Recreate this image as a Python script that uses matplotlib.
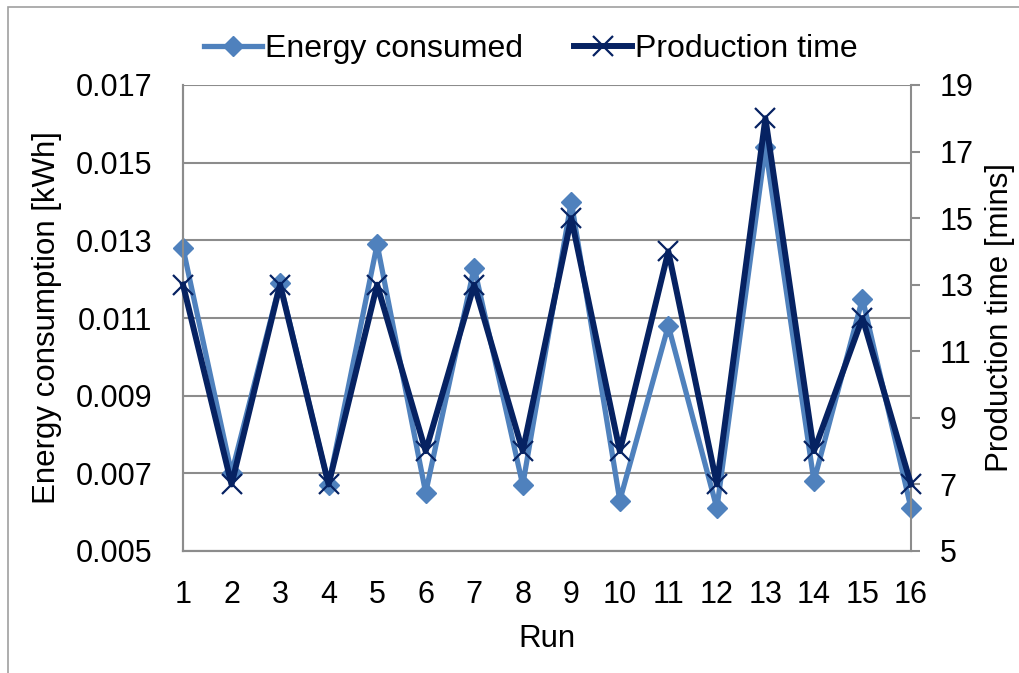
import numpy as np
import matplotlib.pyplot as plt
from matplotlib.patches import Rectangle

plt.rcParams['font.family'] = ['Liberation Sans', 'DejaVu Sans']

# Данные по прогонам
runs = list(range(1, 17))
energy = [0.0128, 0.0070, 0.0119, 0.0067, 0.0129, 0.0065, 0.0123, 0.0067,
          0.0140, 0.0063, 0.0108, 0.0061, 0.0154, 0.0068, 0.0115, 0.0061]
prod_time = [13, 7, 13, 7, 13, 8, 13, 8, 15, 8, 14, 7, 18, 8, 12, 7]

light = '#4F81BD'
dark = '#062262'
grey = '#8C8C8C'
fs = 22

fig = plt.figure(figsize=(10.19, 6.73), dpi=100)
ax = fig.add_axes([183 / 1019, 1 - 551 / 673, (911 - 183) / 1019, (551 - 85) / 673])
ax2 = ax.twinx()

# рамка вокруг области диаграммы
fig.patches.append(Rectangle((8 / 1019, -0.1), 1.2, 1 - 7 / 673 + 0.1,
                             transform=fig.transFigure, fill=False,
                             edgecolor='#A0A0A0', linewidth=1.2))

l1, = ax.plot(runs, energy, color=light, linewidth=3.8, marker='D',
              markersize=10, label='Energy consumed', zorder=3, clip_on=False)
l2, = ax2.plot(runs, prod_time, color=dark, linewidth=4.3, marker='x',
               markersize=14, markeredgewidth=1.6, label='Production time',
               zorder=4, clip_on=False)

ax.set_xlim(1, 16)
ax.set_ylim(0.005, 0.017)
ax.set_yticks(np.arange(0.005, 0.0171, 0.002))
ax.set_yticklabels(['%.3f' % v for v in np.arange(0.005, 0.0171, 0.002)])
ax.set_xticks(runs)
ax2.set_ylim(5, 19)
ax2.set_yticks(range(5, 20, 2))

ax.grid(axis='y', color=grey, linewidth=1.5)
ax.set_axisbelow(True)
for a in (ax, ax2):
    for s in a.spines.values():
        s.set_color(grey)
        s.set_linewidth(1.5)
    a.spines['top'].set_visible(False)
ax.spines['right'].set_visible(False)

ax.tick_params(axis='y', length=0, pad=22, labelsize=fs)
ax.tick_params(axis='x', length=0, pad=21, labelsize=fs)
ax2.tick_params(axis='y', direction='out', length=6.5, width=1.5,
                color=grey, pad=14, labelsize=fs)

ax.set_xlabel('Run', fontsize=fs + 0.5, labelpad=10)
ax.set_ylabel('Energy consumption [kWh]', fontsize=fs + 0.5, labelpad=10)
ax2.set_ylabel('Production time [mins]', fontsize=fs + 0.5, labelpad=8)

ax.legend([l1, l2], ['Energy consumed', 'Production time'], loc='lower center',
          bbox_to_anchor=(0.478, 1.0), ncol=2, frameon=False, fontsize=fs + 1,
          handlelength=1.8, handletextpad=0.1, columnspacing=1.6,
          borderaxespad=0.25)

fig.savefig('out.png', dpi=100)
